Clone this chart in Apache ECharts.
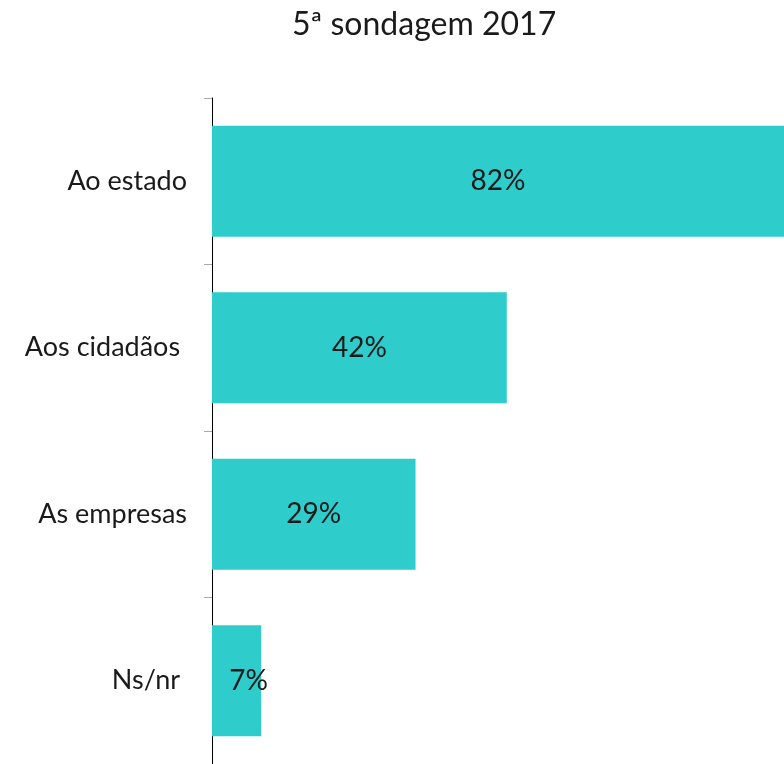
<!DOCTYPE html>
<html>
<head>
<meta charset="utf-8">
<script src="https://cdn.jsdelivr.net/npm/echarts@6/dist/echarts.min.js"></script>
<style>
  html, body { margin: 0; padding: 0; background: #fff; }
  #chart { width: 784px; height: 764px; }
</style>
</head>
<body>
<div id="chart"></div>
<script>
var categories = ['Ao estado', 'Aos cidadãos ', 'As empresas', 'Ns/nr '];
var values = [82, 42, 29, 7];

var chart = echarts.init(document.getElementById('chart'));
var option = {
    animation: false,
    title: {
        text: '5ª sondagem 2017',
        left: 287,
        top: 4,
        textStyle: {
            fontFamily: 'Lato',
            fontWeight: 'normal',
            fontSize: 32,
            color: '#1a1a1a'
        }
    },
    grid: {
        left: 212,
        right: 0,
        top: 98,
        bottom: 0
    },
    xAxis: {
        type: 'value',
        min: 0,
        max: 81.5,
        show: false
    },
    yAxis: {
        type: 'category',
        inverse: true,
        data: categories,
        axisLine: { show: true, lineStyle: { color: '#000', width: 1 } },
        axisTick: { show: true, length: 8, lineStyle: { color: '#aaa' } },
        axisLabel: {
            margin: 25,
            fontFamily: 'Lato',
            fontSize: 27,
            color: '#1a1a1a'
        }
    },
    series: [{
        type: 'bar',
        data: values.map(function (v, i) {
            var d = { value: v };
            if (i === values.length - 1) {
                d.label = { offset: [12, 0] };
            }
            return d;
        }),
        barWidth: 111,
        itemStyle: { color: '#2ecdcc' },
        label: {
            show: true,
            position: 'inside',
            formatter: '{c}%',
            fontFamily: 'Lato',
            fontSize: 28,
            color: '#1a1a1a'
        }
    }]
};
chart.setOption(option);
</script>
</body>
</html>
